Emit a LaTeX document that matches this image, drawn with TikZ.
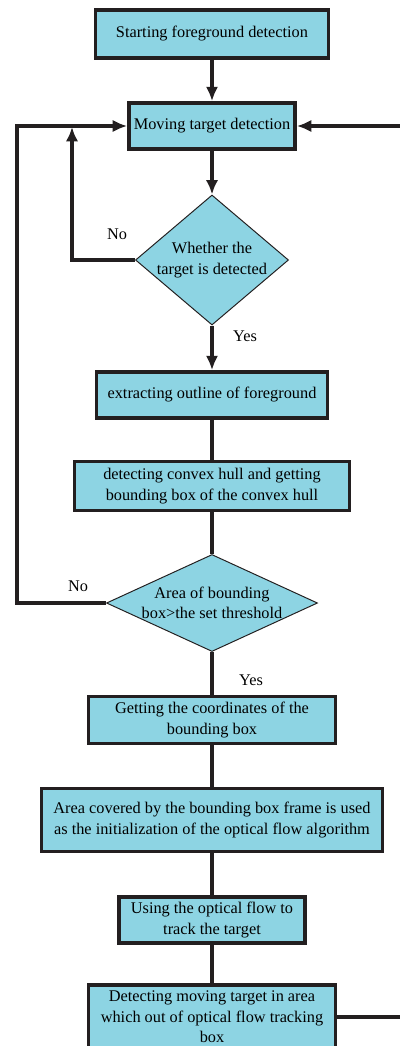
\documentclass[tikz,border=0pt]{standalone}
\usepackage{fontspec}
\setmainfont{Liberation Serif}
\usetikzlibrary{arrows.meta, shapes.geometric}
\definecolor{flowblue}{HTML}{8DD4E3}
\definecolor{lineblk}{HTML}{231F20}
\tikzset{>={Latex[length=3.6mm,width=3.1mm]}}
\tikzset{
  flowbox/.style={draw=lineblk, line width=2.6pt, fill=flowblue, align=center, inner sep=1pt, font=\fontsize{11.6}{14.5}\selectfont},
  flowdia/.style={draw=lineblk, line width=0.7pt, fill=flowblue, shape=diamond, inner sep=0pt},
  flowtxt/.style={align=center, inner sep=0pt, font=\fontsize{11.6}{14.5}\selectfont},
  conn/.style={draw=lineblk, line width=2.3pt}
}

\begin{document}
\begin{tikzpicture}[x=0.025cm, y=-0.025cm]
	\useasboundingbox (0,0) rectangle (400,1046);
	% boxes and decisions
	\node (box1) at (212,34) [flowbox, minimum width=5.825cm, minimum height=1.2cm] {Starting foreground detection};
	\node (box2) at (212,126) [flowbox, minimum width=4.15cm, minimum height=1.15cm] {Moving target detection};
	\node (dia1) at (212,260) [flowdia, minimum width=3.825cm, minimum height=3.25cm] {};
	\node (dia1txt) at (dia1) [flowtxt] {Whether the\\target is detected};
	\node (box3) at (212,395) [flowbox, minimum width=5.775cm, minimum height=1.15cm] {extracting outline of foreground};
	\node (box4) at (212,486) [flowbox, minimum width=6.875cm, minimum height=1.225cm] {detecting convex hull and getting\\bounding box of the convex hull};
	\node (dia2) at (212,603) [flowdia, minimum width=5.275cm, minimum height=2.425cm] {};
	\node (dia2txt) at (dia2) [flowtxt] {Area of bounding\\box>the set threshold};
	\node (box5) at (212,720) [flowbox, minimum width=6.175cm, minimum height=1.175cm] {Getting the coordinates of the\\bounding box};
	\node (box6) at (212,820) [flowbox, minimum width=8.525cm, minimum height=1.575cm] {Area covered by the bounding box frame is used\\as the initialization of the optical flow algorithm};
	\node (box7) at (212,920) [flowbox, minimum width=4.65cm, minimum height=1.15cm] {Using the optical flow to\\track the target};
	\node (box8) at (212,1017) [flowbox, minimum width=6.175cm, minimum height=1.6cm] {Detecting moving target in area\\which out of optical flow tracking\\box};
	% labels
	\node (no1) at (117,234) [flowtxt] {No};
	\node (yes1) at (245,336) [flowtxt] {Yes};
	\node (no2) at (78,586) [flowtxt] {No};
	\node (yes2) at (251,680) [flowtxt] {Yes};
	% helper points
	\coordinate (loop1) at (72,127);
	\coordinate (loop2) at (17,603);
	\coordinate (back2) at (403,126);
	% connectors
	\draw [conn, ->] (box1) -- (box2);
	\draw [conn, ->] (box2) -- (dia1);
	\draw [conn, ->] (dia1) -- (box3);
	\draw [conn, ->] (dia1.west) -| (loop1);
	\draw [conn, ->] (dia2.west) -- (loop2) |- (box2.west);
	\draw [conn, ->] (box8.east) -| (back2) -- (box2.east);
	\draw [conn] (box3) -- (box4);
	\draw [conn] (box4) -- (dia2);
	\draw [conn] (dia2) -- (box5);
	\draw [conn] (box5) -- (box6);
	\draw [conn] (box6) -- (box7);
	\draw [conn] (box7) -- (box8);
\end{tikzpicture}
\end{document}
